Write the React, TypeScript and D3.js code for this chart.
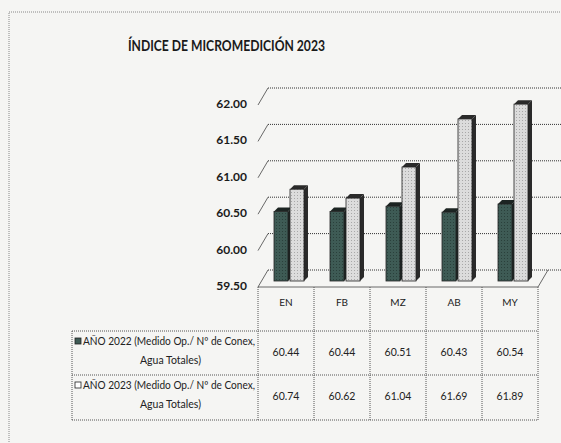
import React from 'react'
import * as d3 from 'd3'

const months = ['EN', 'FB', 'MZ', 'AB', 'MY']
const values2022 = [60.44, 60.44, 60.51, 60.43, 60.54]
const values2023 = [60.74, 60.62, 61.04, 61.69, 61.89]
const yTicks = [59.5, 60, 60.5, 61, 61.5, 62]
const seriesNames = [
    ['AÑO 2022 (Medido Op./ Nº de Conex,', 'Agua Totales)'],
    ['AÑO 2023 (Medido Op./ Nº de Conex,', 'Agua Totales)'],
]
const title = 'ÍNDICE DE MICROMEDICIÓN 2023'

const W = 561
const H = 443
const FONT = 'Lato, "DejaVu Sans Condensed", sans-serif'

export default function App() {
    // 3D offsets of the back wall
    const dx = 10
    const dy = -17
    const plotLeft = 258
    const plotRight = 538

    const x = d3.scaleBand<string>().domain(months).range([plotLeft, plotRight])
    const yFront = d3.scaleLinear().domain([59.5, 62]).range([287, 105])
    const yBar = d3.scaleLinear().domain([59.5, 62]).range([281, 96])

    const barW = 14
    const depth = 4
    const rowTop = [331, 375]
    const rowBottom = 420
    const legendLeft = 72

    const bar = (cx: number, v: number, fill: string, side: string, key: string) => {
        const top = yBar(v)
        const base = yBar(59.5)
        return (
            <g key={key}>
                <polygon
                    points={`${cx + barW},${top} ${cx + barW + depth},${top - depth} ${cx + barW + depth},${base - depth} ${cx + barW},${base}`}
                    fill={side}
                />
                <polygon
                    points={`${cx},${top} ${cx + depth},${top - depth} ${cx + barW + depth},${top - depth} ${cx + barW},${top}`}
                    fill={side}
                />
                <rect x={cx} y={top} width={barW} height={base - top} fill={fill} stroke="#222" strokeWidth={0.8} />
            </g>
        )
    }

    return (
        <svg width={W} height={H} style={{ position: 'absolute', left: 0, top: 0, background: '#f5f5f3' }} fontFamily={FONT}>
            <defs>
                <pattern id="stipple" width="3" height="3" patternUnits="userSpaceOnUse">
                    <rect width="3" height="3" fill="#dcdcdc" />
                    <rect width="1" height="1" fill="#a8a8a8" />
                </pattern>
                <pattern id="stippleDark" width="3" height="3" patternUnits="userSpaceOnUse">
                    <rect width="3" height="3" fill="#3e5b55" />
                    <rect width="1" height="1" fill="#2a403b" />
                </pattern>
            </defs>

            {/* outer frame */}
            <rect x={9} y={12} width={W + 20} height={H + 20} fill="none" stroke="#888" strokeDasharray="1 1" />

            <text x={128} y={51} fontSize={16} fontWeight={700} fill="#1a1a1a" textLength={197} lengthAdjust="spacingAndGlyphs">
                {title}
            </text>

            {/* back wall gridlines and side wall diagonals */}
            {yTicks.map(t => (
                <g key={t}>
                    <line x1={plotLeft + dx} x2={W} y1={yFront(t) + dy} y2={yFront(t) + dy} stroke="#333" strokeDasharray="1 1" />
                    <line x1={plotLeft} y1={yFront(t)} x2={plotLeft + dx} y2={yFront(t) + dy} stroke="#444" strokeWidth={0.8} />
                    <text x={247} y={yFront(t)} fontSize={12} fontWeight={700} textAnchor="end" dominantBaseline="middle" fill="#1a1a1a">
                        {t.toFixed(2)}
                    </text>
                </g>
            ))}

            {/* floor */}
            <polyline
                points={`${plotLeft},${yFront(59.5)} ${plotRight},${yFront(59.5)} ${plotRight + dx},${yFront(59.5) + dy}`}
                fill="none"
                stroke="#444"
                strokeWidth={0.8}
            />

            {/* bars */}
            {months.map((m, i) => {
                const bx = x(m)! + 16
                return (
                    <g key={m}>
                        {bar(bx, values2022[i], 'url(#stippleDark)', '#1c2422', `a${m}`)}
                        {bar(bx + barW + 2, values2023[i], 'url(#stipple)', '#2a2a2a', `b${m}`)}
                    </g>
                )
            })}

            {/* data table */}
            <g stroke="#555" strokeDasharray="1 1" fill="none">
                {[...months.map(m => x(m)!), plotRight].map((lx, i) => (
                    <line key={i} x1={lx} x2={lx} y1={yFront(59.5)} y2={rowBottom} />
                ))}
                <line x1={legendLeft} x2={legendLeft} y1={rowTop[0]} y2={rowBottom} />
                {[...rowTop, rowBottom].map((ly, i) => (
                    <line key={i} x1={legendLeft} x2={plotRight} y1={ly} y2={ly} />
                ))}
            </g>

            {months.map(m => (
                <text key={m} x={x(m)! + x.bandwidth() / 2} y={303} fontSize={10} textAnchor="middle" dominantBaseline="middle" fill="#222">
                    {m}
                </text>
            ))}

            {[values2022, values2023].map((vals, r) => (
                <g key={r}>
                    {vals.map((v, i) => (
                        <text
                            key={i}
                            x={x(months[i])! + x.bandwidth() / 2}
                            y={(rowTop[r] + (rowTop[r + 1] ?? rowBottom)) / 2}
                            fontSize={10.5}
                            textAnchor="middle"
                            dominantBaseline="middle"
                            fill="#222"
                        >
                            {v.toFixed(2)}
                        </text>
                    ))}
                    <rect
                        x={75}
                        y={rowTop[r] + 7}
                        width={6}
                        height={6}
                        fill={r === 0 ? '#3e5b55' : '#fff'}
                        stroke="#222"
                        strokeWidth={0.8}
                    />
                    <text x={83} y={rowTop[r] + 11} fontSize={10.5} dominantBaseline="middle" fill="#222" textLength={172} lengthAdjust="spacingAndGlyphs">
                        {seriesNames[r][0]}
                    </text>
                    <text x={140} y={rowTop[r] + 30} fontSize={10.5} dominantBaseline="middle" fill="#222" textLength={61} lengthAdjust="spacingAndGlyphs">
                        {seriesNames[r][1]}
                    </text>
                </g>
            ))}
        </svg>
    )
}
